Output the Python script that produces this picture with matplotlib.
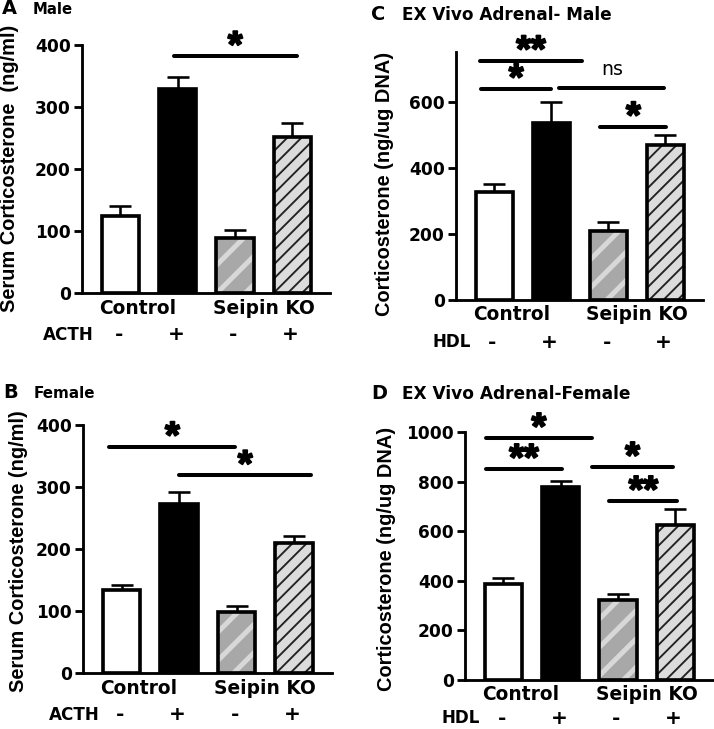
import matplotlib
matplotlib.use("Agg")
import matplotlib.pyplot as plt
import matplotlib.patheffects as pe

plt.rcParams["font.family"] = ["DejaVu Sans"]
plt.rcParams["font.weight"] = "bold"

W, H, DPI = 714, 729, 85
PT = 72 / DPI  # pixels -> points

groups = ["Control", "Seipin KO"]
signs = ["-", "+", "-", "+"]

male_serum = [125, 329, 89, 252]
male_serum_err = [15, 19, 13, 22]
female_serum = [134, 272, 98, 210]
female_serum_err = [8, 20, 10, 11]
male_adrenal = [327, 536, 209, 470]
male_adrenal_err = [25, 64, 27, 30]
female_adrenal = [387, 778, 323, 625]
female_adrenal_err = [24, 25, 24, 65]

# significance lines: (x from, x to, y, label)
male_serum_sig = [(0.93, 3.08, 382, "*")]
female_serum_sig = [(-0.21, 1.98, 365, "*"), (1.0, 3.3, 319, "*")]
male_adrenal_sig = [(-0.25, 1.54, 724, "**"), (-0.23, 1.0, 639, "*"),
                    (1.14, 2.98, 642, "ns"), (1.86, 3.02, 524, "*")]
female_adrenal_sig = [(-0.31, 1.55, 976, "*"), (-0.31, 1.03, 851, "**"),
                      (1.54, 2.97, 859, "*"), (1.85, 3.04, 722, "**")]

# white, black, grey with light stripes, light grey with dark stripes
bar_styles = [
    dict(face="white", hatch=None, hcolor="white", hlw=1.0),
    dict(face="black", hatch=None, hcolor="black", hlw=1.0),
    dict(face="#a8a8a8", hatch="/", hcolor="#d8d8d8", hlw=4.2),
    dict(face="#dcdcdc", hatch="//", hcolor="#222222", hlw=1.6),
]

fig = plt.figure(figsize=(W / DPI, H / DPI), dpi=DPI)


def hatch_width(patch, lw):
    # hatch linewidth is global in older matplotlib, so set it around each draw
    if hasattr(patch, "set_hatch_linewidth"):
        patch.set_hatch_linewidth(lw)
    orig = patch.draw

    def draw(renderer):
        with plt.rc_context({"hatch.linewidth": lw}):
            orig(renderer)
    patch.draw = draw


def draw_panel(box, values, errs, sig, ylim, yticks, treat, treat_x, treat_dy,
               ylabel, ylabel_xy, letter, letter_x, title, title_y, title_size):
    left, top, right, bottom = box
    ax = fig.add_axes([left / W, 1 - bottom / H, (right - left) / W, (bottom - top) / H])
    xs = list(range(len(values)))
    for i in xs:
        st = bar_styles[i]
        with plt.rc_context({"hatch.linewidth": st["hlw"]}):
            bars = ax.bar(i, values[i], width=0.65, color=st["face"], edgecolor=st["hcolor"],
                          hatch=st["hatch"], linewidth=0, zorder=2)
        for p in bars:
            hatch_width(p, st["hlw"])
        ax.bar(i, values[i], width=0.65, facecolor="none", edgecolor="black",
               linewidth=3.1, zorder=3)
    ax.errorbar(xs, values, yerr=[[0] * len(errs), errs], fmt="none", ecolor="black",
                elinewidth=2.2, capsize=9, capthick=2.2, zorder=1)

    for x0, x1, y, lab in sig:
        ax.plot([x0, x1], [y, y], color="black", lw=3.4, solid_capstyle="round",
                zorder=4, clip_on=False)
        xm = (x0 + x1) / 2
        if lab == "ns":
            ax.annotate(lab, (xm, y), xytext=(0, 13 * PT), textcoords="offset points",
                        ha="center", va="baseline", fontsize=16, fontweight="normal")
        else:
            ax.annotate(lab, (xm, y), xytext=(0, -1 * PT), textcoords="offset points",
                        ha="center", va="baseline", fontsize=32, fontweight="bold",
                        family="Liberation Sans",
                        path_effects=[pe.withStroke(linewidth=1.6, foreground="black")])

    ax.set_xlim(-0.67, 3.66)
    ax.set_ylim(*ylim)
    ax.set_yticks(yticks)
    ax.set_xticks([])
    ax.spines[["top", "right"]].set_visible(False)
    ax.spines[["left", "bottom"]].set_linewidth(2.4)
    ax.tick_params(axis="y", length=7, width=2.4, labelsize=14.4, pad=2.5)
    for t in ax.get_yticklabels():
        t.set_fontweight("bold")

    tr = ax.get_xaxis_transform()
    for gx, g in zip([0.3, 2.5], groups):
        ax.annotate(g, (gx, 0), xycoords=tr, xytext=(0, -15 * PT), textcoords="offset points",
                    ha="center", va="center", fontsize=15.8)
    ax.annotate(treat, (treat_x, 0), xycoords=tr, xytext=(0, -treat_dy * PT),
                textcoords="offset points", ha="center", va="center", fontsize=14.2)
    for i, s in zip(xs, signs):
        ax.annotate(s, (i - 0.03, 0), xycoords=tr, xytext=(0, -treat_dy * PT),
                    textcoords="offset points", ha="center", va="center", fontsize=17)

    fig.text(ylabel_xy[0] / W, 1 - ylabel_xy[1] / H, ylabel, rotation=90,
             ha="center", va="center", fontsize=16.9, family="Liberation Sans")
    fig.text(letter_x / W, 1 - title_y / H, letter, ha="left", va="center", fontsize=16.4)
    fig.text((letter_x + 31) / W, 1 - title_y / H, title, ha="left", va="center",
             fontsize=title_size)
    return ax


draw_panel((82, 45, 330, 293), male_serum, male_serum_err, male_serum_sig,
           (0, 400), [0, 100, 200, 300, 400], "ACTH", -0.91, 42,
           "Serum Corticosterone  (ng/ml)", (10, 168), "A", 2, "Male", 9, 12.6)
draw_panel((83, 425, 332, 673), female_serum, female_serum_err, female_serum_sig,
           (0, 400), [0, 100, 200, 300, 400], "ACTH", -0.82, 42,
           "Serum Corticosterone (ng/ml)", (19, 551), "B", 3, "Female", 393, 12.8)
draw_panel((456, 52, 703, 300), male_adrenal, male_adrenal_err, male_adrenal_sig,
           (0, 750), [0, 200, 400, 600], "HDL", -0.74, 42,
           "Corticosterone (ng/ug DNA)", (384, 184), "C", 371, "EX Vivo Adrenal- Male", 15, 14.3)
draw_panel((465, 432, 713, 680), female_adrenal, female_adrenal_err, female_adrenal_sig,
           (0, 1000), [0, 200, 400, 600, 800, 1000], "HDL", -0.75, 38,
           "Corticosterone (ng/ug DNA)", (386, 559), "D", 371, "EX Vivo Adrenal-Female", 394, 14.4)

fig.savefig("out.png", dpi=DPI)
